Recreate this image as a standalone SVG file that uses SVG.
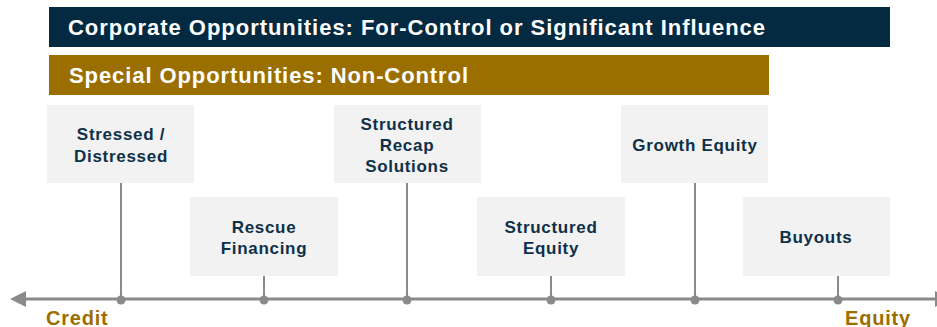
<svg xmlns="http://www.w3.org/2000/svg" width="937" height="327" viewBox="0 0 937 327">
<style>
.bar{font-family:"Liberation Sans",Arial,sans-serif;font-weight:bold;font-size:22px;fill:#ffffff}
.box{fill:#f2f2f2}
.lbl{font-family:"Liberation Sans",Arial,sans-serif;font-weight:bold;font-size:17px;fill:#0e3049;text-anchor:middle;letter-spacing:0.7px}
.ax{font-family:"Liberation Sans",Arial,sans-serif;font-weight:bold;font-size:20px;fill:#9c6e00;letter-spacing:0.8px}
.stem{stroke:#8a8a8a;stroke-width:2;fill:none}
.dot{fill:#8a8a8a}
</style>
<g id="bar-corporate">
<rect x="49" y="7" width="841" height="40" fill="#032a41"/>
<text class="bar" x="68" y="35" textLength="697" lengthAdjust="spacing">Corporate Opportunities: For-Control or Significant Influence</text>
</g>
<g id="bar-special">
<rect x="49" y="55" width="720" height="40" fill="#9b6e00"/>
<text class="bar" x="69" y="83" textLength="399" lengthAdjust="spacing">Special Opportunities: Non-Control</text>
</g>
<g id="axis">
<line x1="20" y1="299" x2="937" y2="299" stroke="#8a8a8a" stroke-width="3"/>
<polygon points="10,299 26,291 26,307" fill="#8a8a8a"/>
<polygon points="935,291 951,299 935,307" fill="#8a8a8a"/>
<text class="ax" x="46" y="325">Credit</text>
<text class="ax" x="845" y="325">Equity</text>
</g>
<g id="connectors">
<line class="stem" x1="121" y1="183" x2="121" y2="299"/>
<line class="stem" x1="264" y1="276" x2="264" y2="299"/>
<line class="stem" x1="407" y1="183" x2="407" y2="299"/>
<line class="stem" x1="551" y1="276" x2="551" y2="299"/>
<line class="stem" x1="695" y1="183" x2="695" y2="299"/>
<line class="stem" x1="838" y1="276" x2="838" y2="299"/>
<circle class="dot" cx="121" cy="300" r="4.5"/>
<circle class="dot" cx="264" cy="300" r="4.5"/>
<circle class="dot" cx="407" cy="300" r="4.5"/>
<circle class="dot" cx="551" cy="300" r="4.5"/>
<circle class="dot" cx="695" cy="300" r="4.5"/>
<circle class="dot" cx="838" cy="300" r="4.5"/>
</g>
<g id="node-stressed">
<rect class="box" x="47" y="105" width="147" height="78"/>
<text class="lbl" x="121" y="140">Stressed /</text>
<text class="lbl" x="121" y="162">Distressed</text>
</g>
<g id="node-rescue">
<rect class="box" x="190" y="197" width="148" height="79"/>
<text class="lbl" x="264" y="233">Rescue</text>
<text class="lbl" x="264" y="254">Financing</text>
</g>
<g id="node-recap">
<rect class="box" x="334" y="105" width="147" height="78"/>
<text class="lbl" x="407" y="130">Structured</text>
<text class="lbl" x="407" y="151">Recap</text>
<text class="lbl" x="407" y="172">Solutions</text>
</g>
<g id="node-structured-equity">
<rect class="box" x="477" y="197" width="148" height="79"/>
<text class="lbl" x="551" y="233">Structured</text>
<text class="lbl" x="551" y="254">Equity</text>
</g>
<g id="node-growth">
<rect class="box" x="621" y="105" width="147" height="78"/>
<text class="lbl" x="695" y="151">Growth Equity</text>
</g>
<g id="node-buyouts">
<rect class="box" x="743" y="197" width="147" height="79"/>
<text class="lbl" x="816" y="243">Buyouts</text>
</g>
</svg>
